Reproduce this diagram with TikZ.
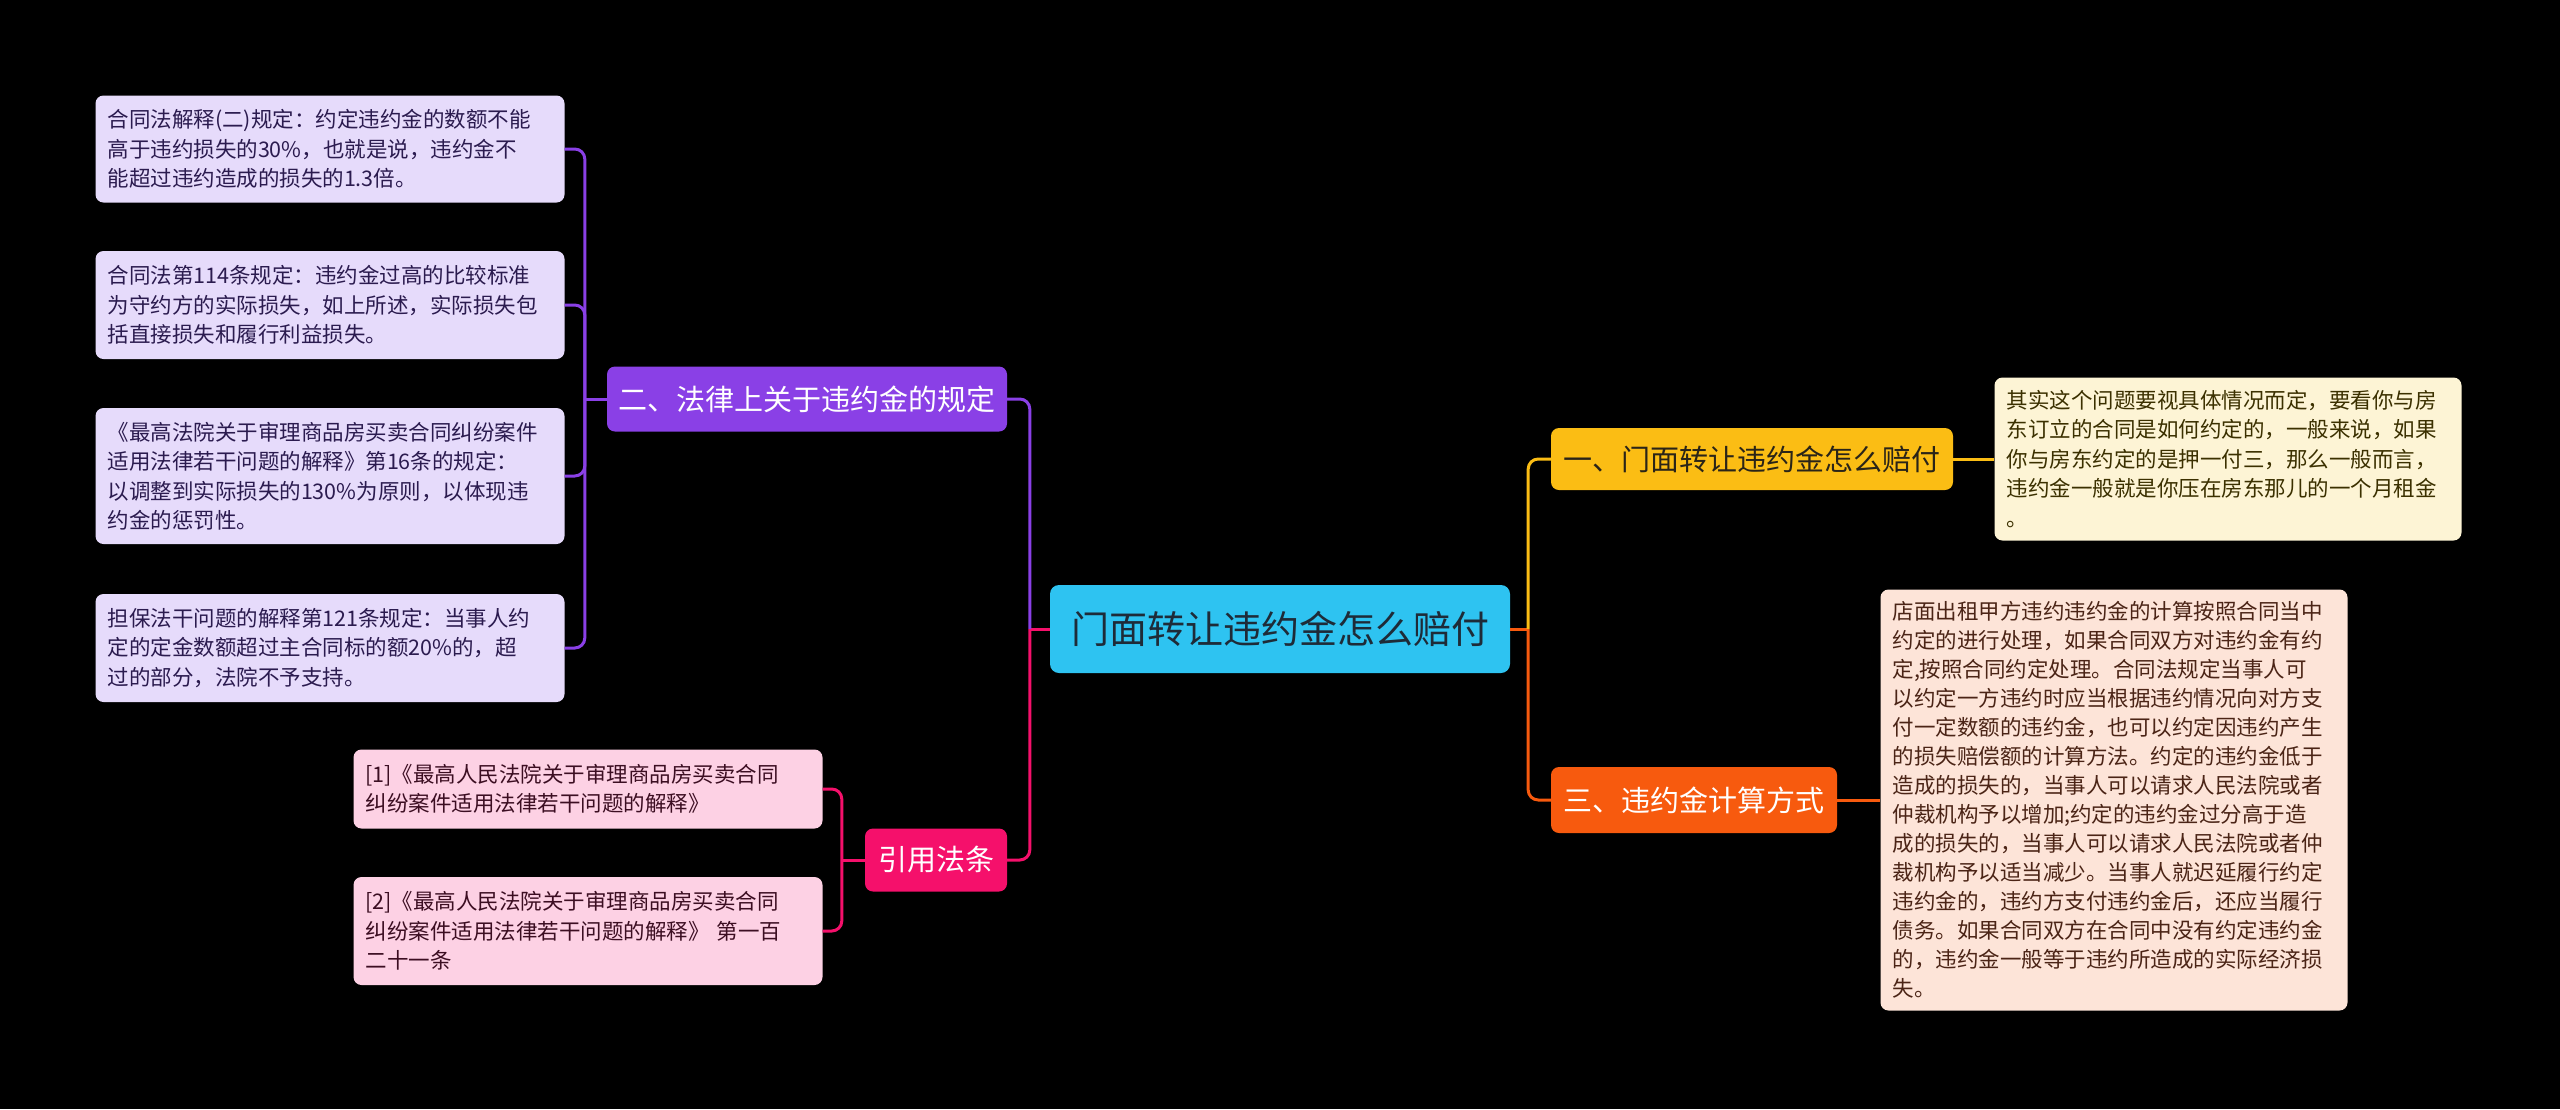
\documentclass[tikz,border=0pt]{standalone}
\usepackage{fontspec}
\setmainfont{Noto Sans CJK SC}
\usepackage{tikz}
\usetikzlibrary{positioning, calc}
\definecolor{mapBg}{HTML}{000000}
\definecolor{mapCyan}{HTML}{2EC3F1}
\definecolor{mapAmber}{HTML}{FBBD14}
\definecolor{mapOrange}{HTML}{F75A0E}
\definecolor{mapPurple}{HTML}{8A40E6}
\definecolor{mapPink}{HTML}{F5106B}
\definecolor{noteCream}{HTML}{FDF4D5}
\definecolor{notePeach}{HTML}{FDE4D8}
\definecolor{noteLavender}{HTML}{E6DBFB}
\definecolor{noteRose}{HTML}{FDD1E4}
\definecolor{inkRoot}{HTML}{1E2B38}
\definecolor{inkDark}{HTML}{2A2418}
\definecolor{inkBrown}{HTML}{3B3000}
\definecolor{inkRust}{HTML}{4B2416}
\definecolor{inkPlum}{HTML}{2B1B4F}
\definecolor{inkWine}{HTML}{3C0E22}
\tikzset{
  rootbox/.style={rectangle, rounded corners=9pt, fill=mapCyan, text=inkRoot,
    font=\fontsize{38}{44}\selectfont, inner sep=0pt, align=center},
  topicbox/.style={rectangle, rounded corners=8pt, inner sep=0pt,
    font=\fontsize{29}{34}\selectfont, align=center},
  notebox/.style={rectangle, rounded corners=8pt, inner xsep=12pt,
    inner ysep=8pt, font=\fontsize{21.5}{29.5}\selectfont, align=left},
  wire/.style={line width=3pt, rounded corners=10pt},
}

\begin{document}
\begin{tikzpicture}[x=1pt, y=-1pt]
    \fill[mapBg] (0,0) rectangle (2560,1109);
    \useasboundingbox (0,0) rectangle (2560,1109);
    \node[rootbox, minimum width=460pt, minimum height=88pt] (root)
      at (1280,629) {门面转让违约金怎么赔付};
    \node[topicbox, fill=mapAmber, text=inkDark, minimum width=402pt,
      minimum height=62pt] (pay) at (1752,459) {一、门面转让违约金怎么赔付};
    \node[topicbox, fill=mapOrange, text=white, minimum width=286pt,
      minimum height=66pt] (calc) at (1694,800) {三、违约金计算方式};
    \node[topicbox, fill=mapPurple, text=white, minimum width=400pt,
      minimum height=65pt] (law) at (807,399) {二、法律上关于违约金的规定};
    \node[topicbox, fill=mapPink, text=white, minimum width=142pt,
      minimum height=63pt] (cite) at (936,860) {引用法条};
    \node[notebox, fill=noteCream, text=inkBrown, text width=443pt,
      minimum height=163pt] (payNote) at (2228,459)
      {其实这个问题要视具体情况而定，要看你与房\\
       东订立的合同是如何约定的，一般来说，如果\\
       你与房东约定的是押一付三，那么一般而言，\\
       违约金一般就是你压在房东那儿的一个月租金\\
       。};
    \node[notebox, fill=notePeach, text=inkRust, text width=443pt,
      minimum height=421pt, font=\fontsize{21.5}{29}\selectfont]
      (calcNote) at (2114,800)
      {店面出租甲方违约违约金的计算按照合同当中\\
       约定的进行处理，如果合同双方对违约金有约\\
       定,按照合同约定处理。合同法规定当事人可\\
       以约定一方违约时应当根据违约情况向对方支\\
       付一定数额的违约金，也可以约定因违约产生\\
       的损失赔偿额的计算方法。约定的违约金低于\\
       造成的损失的，当事人可以请求人民法院或者\\
       仲裁机构予以增加;约定的违约金过分高于造\\
       成的损失的，当事人可以请求人民法院或者仲\\
       裁机构予以适当减少。当事人就迟延履行约定\\
       违约金的，违约方支付违约金后，还应当履行\\
       债务。如果合同双方在合同中没有约定违约金\\
       的，违约金一般等于违约所造成的实际经济损\\
       失。};
    \node[notebox, fill=noteLavender, text=inkPlum, text width=445pt,
      minimum height=107pt] (lawA) at (330,149)
      {合同法解释(二)规定：约定违约金的数额不能\\
       高于违约损失的30\%，也就是说，违约金不\\
       能超过违约造成的损失的1.3倍。};
    \node[notebox, fill=noteLavender, text=inkPlum, text width=445pt,
      minimum height=108pt] (lawB) at (330,305)
      {合同法第114条规定：违约金过高的比较标准\\
       为守约方的实际损失，如上所述，实际损失包\\
       括直接损失和履行利益损失。};
    \node[notebox, fill=noteLavender, text=inkPlum, text width=445pt,
      minimum height=136pt] (lawC) at (330,476)
      {《最高法院关于审理商品房买卖合同纠纷案件\\
       适用法律若干问题的解释》第16条的规定：\\
       以调整到实际损失的130\%为原则，以体现违\\
       约金的惩罚性。};
    \node[notebox, fill=noteLavender, text=inkPlum, text width=445pt,
      minimum height=108pt] (lawD) at (330,648)
      {担保法干问题的解释第121条规定：当事人约\\
       定的定金数额超过主合同标的额20\%的，超\\
       过的部分，法院不予支持。};
    \node[notebox, fill=noteRose, text=inkWine, text width=445pt,
      minimum height=79pt] (citeA) at (588,789)
      {[1]《最高人民法院关于审理商品房买卖合同\\
       纠纷案件适用法律若干问题的解释》};
    \node[notebox, fill=noteRose, text=inkWine, text width=445pt,
      minimum height=108pt] (citeB) at (588,931)
      {[2]《最高人民法院关于审理商品房买卖合同\\
       纠纷案件适用法律若干问题的解释》 第一百\\
       二十一条};
    \coordinate (rootR) at ($(root.east)+(18,0)$);
    \coordinate (rootL) at ($(root.west)+(-20,0)$);
    \coordinate (lawJ) at ($(law.west)+(-22,0)$);
    \coordinate (citeJ) at ($(cite.west)+(-23,0)$);
    \draw[wire, mapOrange] (root.east) -- (rootR);
    \draw[wire, mapAmber] (rootR) |- (pay.west);
    \draw[wire, mapOrange] (rootR) |- (calc.west);
    \draw[wire, mapAmber] (pay.east) -- (payNote.west);
    \draw[wire, mapOrange] (calc.east) -- (calcNote.west);
    \draw[wire, mapPink] (root.west) -- (rootL);
    \draw[wire, mapPurple] (rootL) |- (law.east);
    \draw[wire, mapPink] (rootL) |- (cite.east);
    \draw[wire, mapPurple] (law.west) -- (lawJ);
    \foreach \leaf in {lawA, lawB, lawC, lawD}
      \draw[wire, mapPurple] (lawJ) |- (\leaf.east);
    \draw[wire, mapPink] (cite.west) -- (citeJ);
    \foreach \leaf in {citeA, citeB}
      \draw[wire, mapPink] (citeJ) |- (\leaf.east);
\end{tikzpicture}
\end{document}
